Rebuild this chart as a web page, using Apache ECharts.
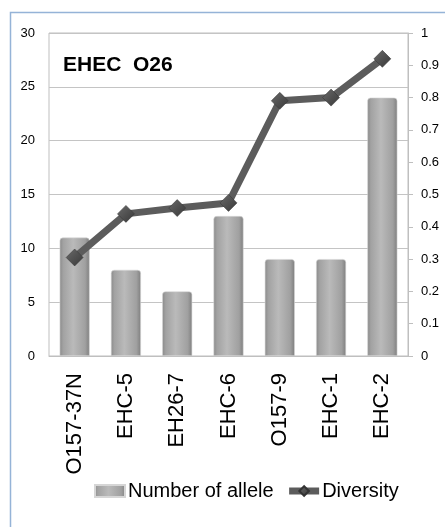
<!DOCTYPE html>
<html>
<head>
<meta charset="utf-8">
<style>
  html, body { margin: 0; padding: 0; background: #fff; }
  #chart { width: 445px; height: 527px; }
</style>
<script src="https://cdn.jsdelivr.net/npm/echarts@6/dist/echarts.min.js"></script>
</head>
<body>
<div id="chart"></div>
<script>
// Strains along the x axis
const categories = ['O157-37N', 'EHC-5', 'EH26-7', 'EHC-6', 'O157-9', 'EHC-1', 'EHC-2'];
// Number of alleles per locus (left axis)
const alleleCounts = [11, 8, 6, 13, 9, 9, 24];
// Diversity index per locus (right axis)
const diversity = [0.305, 0.44, 0.458, 0.474, 0.79, 0.80, 0.92];
// Axis tick labels
const leftTicks = [0, 5, 10, 15, 20, 25, 30];
const rightTicks = [0, 0.1, 0.2, 0.3, 0.4, 0.5, 0.6, 0.7, 0.8, 0.9, 1];

const FONT = '"Liberation Sans", Arial, sans-serif';

const barFill = new echarts.graphic.LinearGradient(0, 0, 1, 0, [
  { offset: 0, color: '#8a8a8a' },
  { offset: 0.12, color: '#a2a2a2' },
  { offset: 0.45, color: '#bababa' },
  { offset: 0.85, color: '#a0a0a0' },
  { offset: 1, color: '#7e7e7e' }
]);

const diamondFill = new echarts.graphic.LinearGradient(0, 0, 1, 1, [
  { offset: 0, color: '#6a6a6a' },
  { offset: 1, color: '#383838' }
]);

const chart = echarts.init(document.getElementById('chart'), null, { renderer: 'canvas' });

chart.setOption({
  backgroundColor: '#ffffff',
  animation: false,
  textStyle: { fontFamily: FONT },
  graphic: [
    {
      type: 'rect',
      shape: { x: 10.5, y: 12.5, width: 500, height: 600 },
      style: { fill: 'none', stroke: '#95b3d7', lineWidth: 1.5 },
      silent: true
    },
    {
      type: 'text',
      left: 63,
      top: 55,
      style: { text: 'EHEC  O26', font: 'bold 21px ' + FONT, fill: '#000' }
    }
  ],
  grid: {
    left: 49, right: 37, top: 33, bottom: 171,
    show: true, borderColor: '#bfbfbf', borderWidth: 1, backgroundColor: 'transparent'
  },
  legend: {
    left: 89,
    top: 476,
    itemGap: 12,
    textStyle: { fontSize: 20, color: '#000', fontFamily: FONT, padding: [0, 0, 0, -2] },
    data: [
      { name: 'Number of allele', icon: 'rect', itemStyle: { color: barFill } },
      {
        name: 'Diversity',
        lineStyle: { width: 7, color: '#5c5c5c' },
        itemStyle: { color: diamondFill }
      }
    ],
    itemWidth: 30,
    itemHeight: 12
  },
  xAxis: {
    type: 'category',
    data: categories,
    axisLine: { show: true, lineStyle: { color: '#bfbfbf' } },
    axisTick: { show: false },
    axisLabel: {
      rotate: 90, margin: 17, fontSize: 22, color: '#000', fontFamily: FONT,
      interval: 0
    }
  },
  yAxis: [
    {
      type: 'value',
      min: leftTicks[0], max: leftTicks[leftTicks.length - 1], interval: 5,
      axisLine: { show: false },
      axisTick: { show: false },
      axisLabel: { fontSize: 13, color: '#000', margin: 14, fontFamily: FONT },
      splitLine: { show: true, lineStyle: { color: '#c4c4c4' } }
    },
    {
      type: 'value',
      min: rightTicks[0], max: rightTicks[rightTicks.length - 1], interval: 0.1,
      position: 'right',
      axisLine: { show: true, lineStyle: { color: '#bfbfbf' } },
      axisTick: { show: true, length: 5, inside: false, lineStyle: { color: '#bfbfbf' } },
      axisLabel: {
        fontSize: 13, color: '#000', margin: 13, fontFamily: FONT,
        formatter: v => String(Math.round(v * 10) / 10)
      },
      splitLine: { show: false }
    }
  ],
  series: [
    {
      name: 'Number of allele',
      type: 'bar',
      yAxisIndex: 0,
      data: alleleCounts,
      barWidth: 30,
      itemStyle: { color: barFill, borderRadius: [3, 3, 0, 0], borderColor: '#d6d6d6', borderWidth: 0.6 },
      z: 2
    },
    {
      name: 'Diversity',
      type: 'line',
      yAxisIndex: 1,
      data: diversity,
      symbol: 'diamond',
      symbolSize: 17,
      lineStyle: { color: '#5c5c5c', width: 7 },
      itemStyle: { color: diamondFill, borderColor: '#333', borderWidth: 0.5 },
      z: 3
    }
  ]
});
</script>
</body>
</html>
